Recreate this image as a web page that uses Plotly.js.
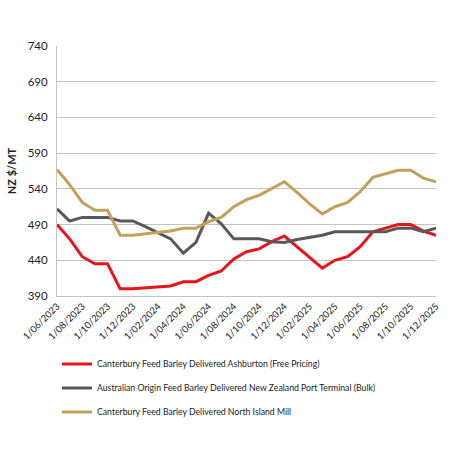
<!DOCTYPE html>
<html>
<head>
<meta charset="utf-8">
<script src="https://cdn.plot.ly/plotly-3.0.1.min.js"></script>
<style>html,body{margin:0;padding:0;background:#fff;}#chart{width:450px;height:450px;}</style>
</head>
<body>
<div id="chart"></div>
<script>
var months = ["1/06/2023","1/07/2023","1/08/2023","1/09/2023","1/10/2023","1/11/2023","1/12/2023",
  "1/01/2024","1/02/2024","1/03/2024","1/04/2024","1/05/2024","1/06/2024","1/07/2024","1/08/2024",
  "1/09/2024","1/10/2024","1/11/2024","1/12/2024","1/01/2025","1/02/2025","1/03/2025","1/04/2025",
  "1/05/2025","1/06/2025","1/07/2025","1/08/2025","1/09/2025","1/10/2025","1/11/2025","1/12/2025"];
var ashburton = [490,470,445,435,435,400,400,401,402,404,410,410,419,425,442,452,456,466,474,459,444,429,440,445,459,480,485,490,490,481,475];
var australian = [512,495,500,500,500,495,495,487,478,470,450,465,506,491,470,470,470,466,465,469,472,475,480,480,480,480,480,485,485,480,485];
var northIsland = [567,546,521,510,510,475,475,477,479,481,485,485,494,500,515,525,531,540,550,535,519,505,515,521,536,556,561,566,566,555,550];
var seriesNames = ["Canterbury Feed Barley Delivered Ashburton (Free Pricing)",
  "Australian Origin Feed Barley Delivered New Zealand Port Terminal (Bulk)",
  "Canterbury Feed Barley Delivered North Island Mill"];
var yTicks = [390,440,490,540,590,640,690,740];
var xTicks = months.filter(function(m,i){return i%2===0;});

var font = "Lato, 'Open Sans', sans-serif";
var traces = [
  {x: months, y: ashburton, name: seriesNames[0], legendgroup: "a", mode: "lines", line: {color: "#e8141c", width: 3}},
  {x: months, y: australian, name: seriesNames[1], legendgroup: "b", mode: "lines", line: {color: "#585858", width: 3}},
  {x: months, y: northIsland, name: seriesNames[2], legendgroup: "c", mode: "lines", line: {color: "#c4a15b", width: 3}}
];
var layout = {
  width: 450, height: 450,
  margin: {l: 57, r: 14, t: 46, b: 154},
  paper_bgcolor: "#fff", plot_bgcolor: "#fff",
  font: {family: font, color: "#222"},
  showlegend: true,
  legend: {x: 0.0, y: -0.214, xanchor: "left", yanchor: "top", orientation: "v",
    font: {size: 8.7, family: font, color: "#222"}, tracegroupgap: 5, itemwidth: 30,
    bgcolor: "rgba(0,0,0,0)"},
  xaxis: {type: "category", range: [0, 30], tickmode: "array", tickvals: xTicks, ticktext: xTicks,
    tickangle: -45, tickfont: {size: 9.5, family: font, color: "#222"},
    showgrid: false, showline: true, linecolor: "#c4c4c4", linewidth: 1, ticks: "", zeroline: false},
  yaxis: {range: [390, 740], tickmode: "array", tickvals: yTicks, showgrid: true, gridcolor: "#c4c4c4",
    gridwidth: 1, showline: true, linecolor: "#c4c4c4", linewidth: 1, zeroline: false,
    tickfont: {size: 11.5, family: font, color: "#222"}, ticklen: 6, ticks: "outside", tickcolor: "#fff",
    title: {text: "<b>NZ $/MT</b>", font: {size: 11, family: font, color: "#222"}, standoff: 8}}
};
Plotly.newPlot("chart", traces, layout, {displayModeBar: false, staticPlot: true});
</script>
</body>
</html>
